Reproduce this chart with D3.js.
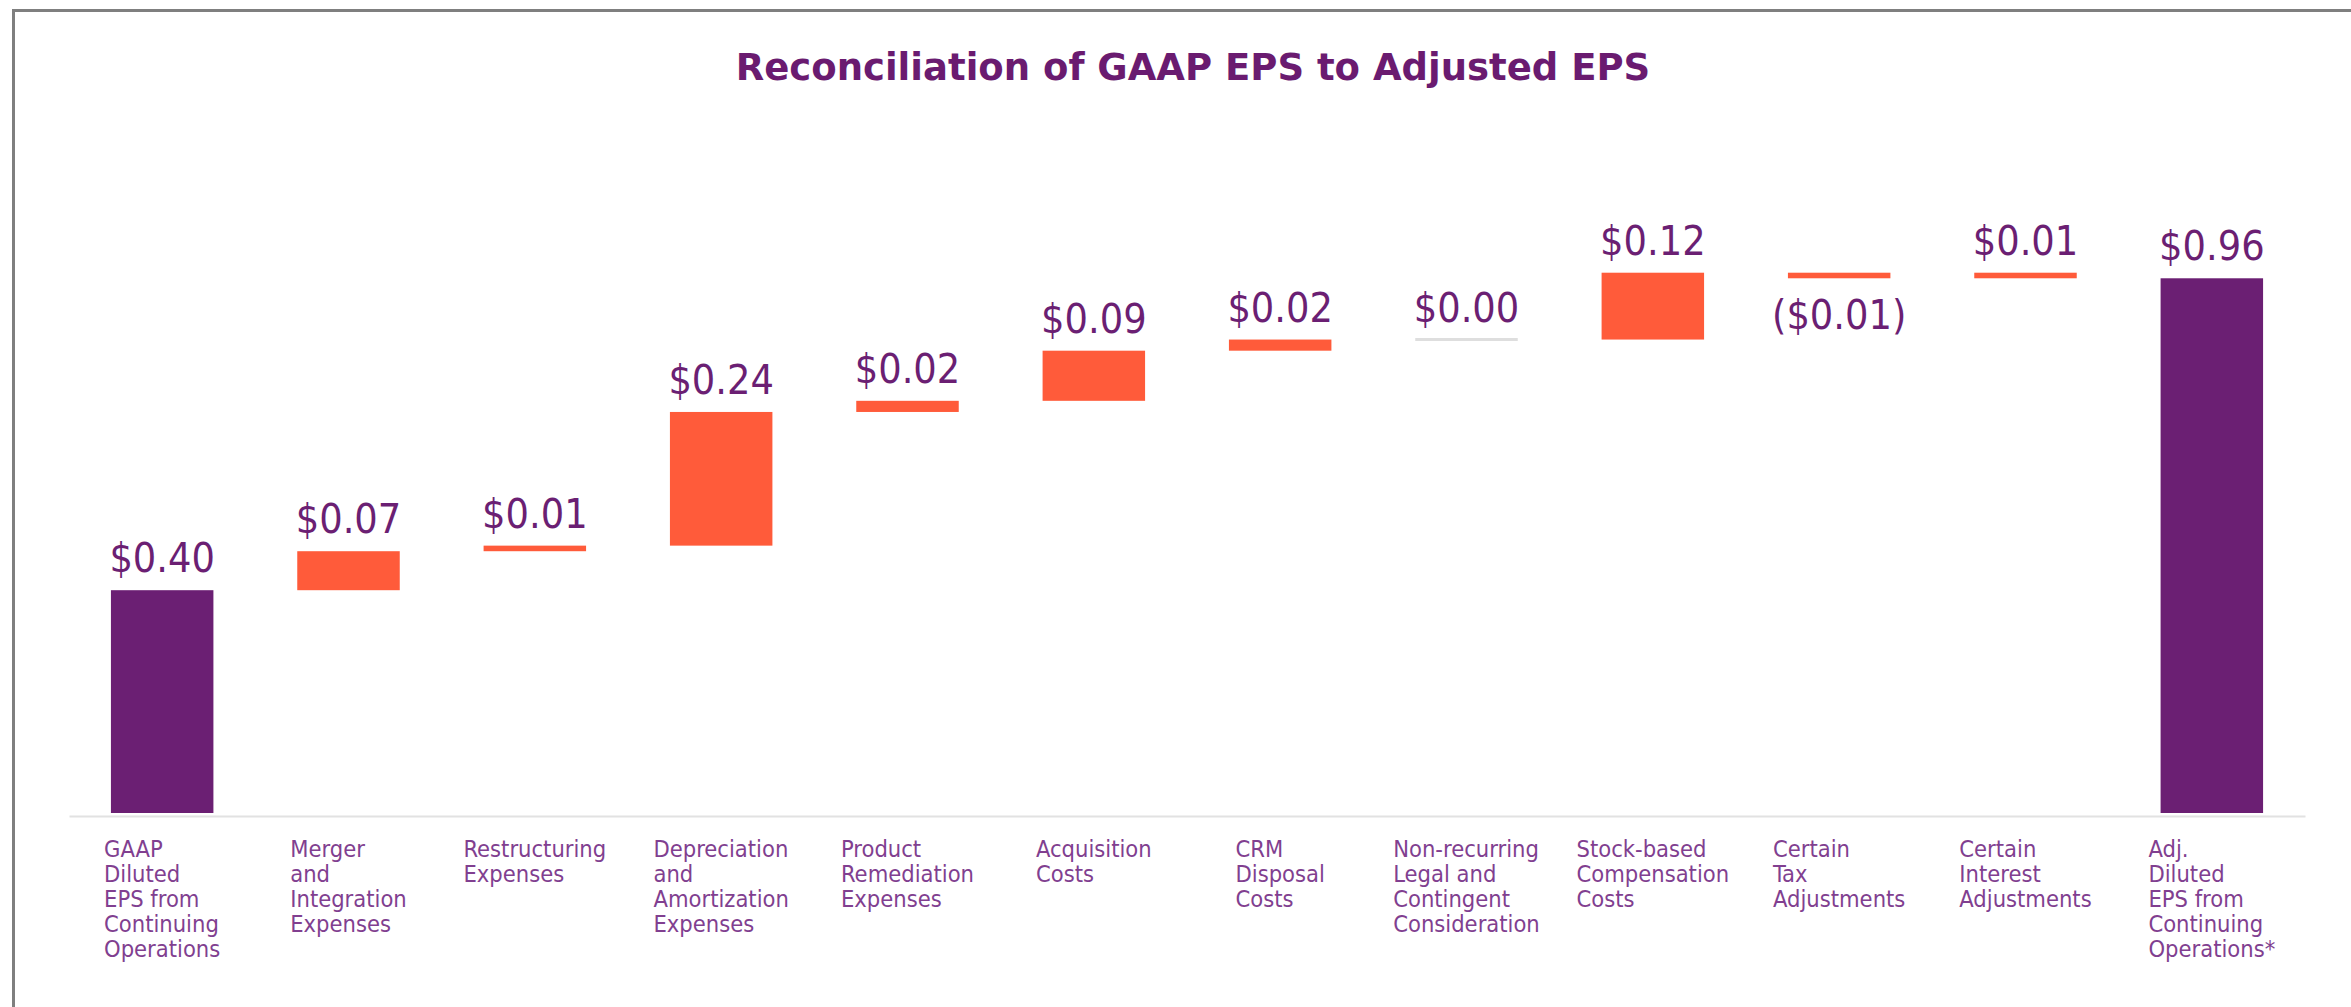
<html>
    <head>
        <title>Reconciliation of GAAP EPS to Adjusted EPS</title>
        <script type="text/javascript" src="https://cdn.jsdelivr.net/npm/d3@7"></script>
        <style>
            body { margin: 0; background: #fff; }
        </style>
    </head>
    <body>
        <script type="text/javascript">
            // data
            let categories = [
                "GAAP\nDiluted\nEPS from\nContinuing\nOperations",
                "Merger\nand\nIntegration\nExpenses",
                "Restructuring\nExpenses",
                "Depreciation\nand\nAmortization\nExpenses",
                "Product\nRemediation\nExpenses",
                "Acquisition\nCosts",
                "CRM\nDisposal\nCosts",
                "Non-recurring\nLegal and\nContingent\nConsideration",
                "Stock-based\nCompensation\nCosts",
                "Certain\nTax\nAdjustments",
                "Certain\nInterest\nAdjustments",
                "Adj.\nDiluted\nEPS from\nContinuing\nOperations*"
            ]
            let values = [0.40, 0.07, 0.01, 0.24, 0.02, 0.09, 0.02, 0.00, 0.12, -0.01, 0.01, 0.96]
            let kinds = ["total","delta","delta","delta","delta","delta","delta","delta","delta","delta","delta","total"]
            let valueLabels = ["$0.40","$0.07","$0.01","$0.24","$0.02","$0.09","$0.02","$0.00","$0.12","($0.01)","$0.01","$0.96"]

            // set up svg
            let w = 2351
            let h = 1007
            let svg = d3.select("body")
                        .append("svg")
                        .attr("width",w)
                        .attr("height",h)
                        .style("display","block")

            // frame (top and left edges only, like the cropped slide)
            svg.append("path")
                .attr("d","M13.5,"+h+" L13.5,10.5 L"+w+",10.5")
                .attr("fill","none")
                .attr("stroke","#7f7f7f")
                .attr("stroke-width",3)

            svg.append("text")
                .attr("x",1193)
                .attr("y",80)
                .attr("text-anchor","middle")
                .attr("font-family","DejaVu Sans, Verdana, sans-serif")
                .attr("font-weight","bold")
                .attr("font-size",37)
                .attr("fill","#6a1b70")
                .text("Reconciliation of GAAP EPS to Adjusted EPS")

            // scales
            let xScale = d3.scaleBand()
                            .domain(d3.range(categories.length))
                            .range([69,2305])
                            .paddingInner(0.45)
                            .paddingOuter(0.225)
            let yScale = d3.scaleLinear()
                            .domain([0,1])
                            .range([813,256])

            // waterfall steps
            let running = 0
            let dataset = values.map((v,i)=>{
                let start, end
                if (kinds[i]=="total"){
                    start = 0
                    end = v
                    running = v
                } else {
                    start = running
                    end = running + v
                    running = end
                }
                return {i:i, v:v, kind:kinds[i], start:start, end:end, label:valueLabels[i]}
            })

            // baseline axis
            let xAxis = d3.axisBottom()
                            .scale(xScale)
                            .tickSize(0)
                            .tickSizeOuter(0)
                            .tickFormat("")
            let axisG = svg.append("g")
                .attr("transform","translate(0,816)")
                .call(xAxis)
            axisG.select(".domain")
                .attr("stroke","#e2e2e2")
                .attr("stroke-width",2)

            // bars
            svg.selectAll("rect.bar")
                .data(dataset.filter(d=>d.v!=0))
                .enter()
                .append("rect")
                .attr("class","bar")
                .attr("x",d=>xScale(d.i))
                .attr("width",xScale.bandwidth())
                .attr("y",d=>yScale(Math.max(d.start,d.end)))
                .attr("height",d=>Math.abs(yScale(d.start)-yScale(d.end)))
                .attr("fill",d=>d.kind=="total" ? "#6b1f73" : "#ff5b3a")

            // zero-size steps shown as a thin grey line
            svg.selectAll("line.zero")
                .data(dataset.filter(d=>d.v==0))
                .enter()
                .append("line")
                .attr("class","zero")
                .attr("x1",d=>xScale(d.i))
                .attr("x2",d=>xScale(d.i)+xScale.bandwidth())
                .attr("y1",d=>yScale(d.end))
                .attr("y2",d=>yScale(d.end))
                .attr("stroke","#dedede")
                .attr("stroke-width",3)

            // value labels
            svg.selectAll("text.val")
                .data(dataset)
                .enter()
                .append("text")
                .attr("class","val")
                .attr("x",d=>xScale(d.i)+xScale.bandwidth()/2)
                .attr("y",d=>d.v<0 ? yScale(Math.min(d.start,d.end))+51 : yScale(Math.max(d.start,d.end))-18)
                .attr("text-anchor","middle")
                .attr("font-family","DejaVu Sans Condensed, DejaVu Sans, sans-serif")
                .attr("font-size",41)
                .attr("fill","#6b1f73")
                .text(d=>d.label)

            // category labels: lines left aligned, block centred under the bar
            let cat = svg.selectAll("text.cat")
                .data(categories)
                .enter()
                .append("text")
                .attr("class","cat")
                .attr("y",857)
                .attr("font-family","DejaVu Sans Condensed, DejaVu Sans, sans-serif")
                .attr("font-size",23.5)
                .attr("fill","#813f90")
            cat.selectAll("tspan")
                .data(d=>d.split("\n"))
                .enter()
                .append("tspan")
                .attr("dy",(d,j)=>j==0 ? 0 : 25)
                .text(d=>d)
            cat.each(function(d,i){
                let spans = d3.select(this).selectAll("tspan")
                let maxW = d3.max(spans.nodes(),n=>n.getComputedTextLength())
                let left = xScale(i) + xScale.bandwidth()/2 - maxW/2
                spans.attr("x",left)
            })
        </script>
    </body>
</html>
